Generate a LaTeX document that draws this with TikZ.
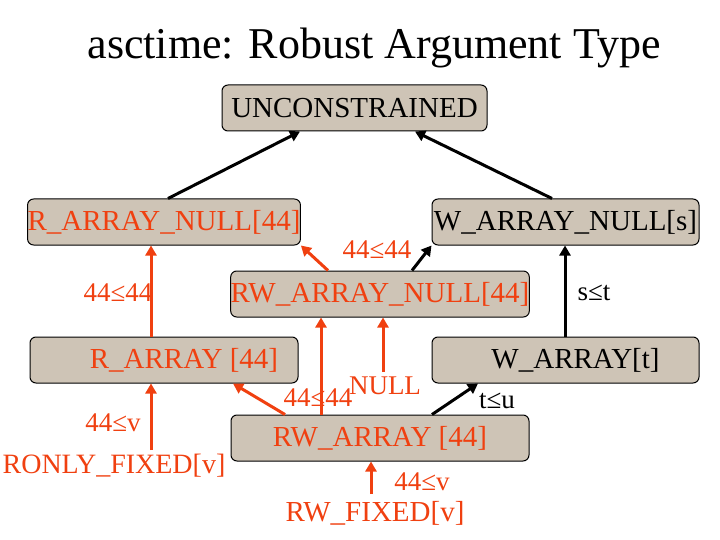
\documentclass[tikz,border=0pt]{standalone}
\usepackage{fontspec}
\setmainfont{Liberation Serif}
\usetikzlibrary{arrows.meta}
\definecolor{boxfill}{RGB}{206,196,182}
\definecolor{org}{RGB}{240,64,16}
\begin{document}
\begin{tikzpicture}[x=1pt,y=-1pt,
  bx/.style={draw=black,line width=1pt,fill=boxfill,rounded corners=6pt,minimum height=46pt,inner sep=0pt,font=\fontsize{29}{32}\selectfont},
  lb/.style={font=\fontsize{27}{30}\selectfont,inner sep=0pt},
  oa/.style={draw=org,line width=3pt,-{Triangle[length=10pt,width=11pt]}},
  ba/.style={draw=black,line width=3pt,-{Triangle[length=10pt,width=11pt]}}]
\useasboundingbox (0,0) rectangle (720,540);
\node[font=\fontsize{44}{48}\selectfont] (title) at (374,48) {asctime: Robust Argument Type};
\node[bx,minimum width=265pt] (U) at (354.5,108) {UNCONSTRAINED};
\node[bx,minimum width=268pt,text=org] (RAN) at (164,222) {R\_ARRAY\_NULL[44]};
\node[bx,minimum width=267pt] (WAN) at (565.5,222) {W\_ARRAY\_NULL[s]};
\node[bx,minimum width=298pt,text=org] (RWAN) at (380,294) {RW\_ARRAY\_NULL[44]};
\node[bx,minimum width=268pt,text=org] (RA) at (164,360) {\hspace{40pt}R\_ARRAY [44]};
\node[bx,minimum width=267pt] (WA) at (565.5,360) {\hspace{20pt}W\_ARRAY[t]};
\node[bx,minimum width=298pt,text=org] (RWA) at (380,438) {RW\_ARRAY [44]};
\node[lb,text=org] (l1) at (118,293) {44≤44};
\node[lb,text=org] (l2) at (377,250) {44≤44};
\node[lb] (l3) at (594,293) {s≤t};
\node[lb,text=org] (null) at (385,386) {NULL};
\node[lb,text=org] (l4) at (318,398) {44≤44};
\node[lb] (l5) at (497,401) {t≤u};
\node[lb,text=org] (l6) at (113,423) {44≤v};
\node[lb,text=org,font=\fontsize{28}{31}\selectfont] (ronly) at (114,466) {RONLY\_FIXED[v]};
\node[lb,text=org] (l7) at (422,482) {44≤v};
\node[lb,text=org,font=\fontsize{29}{32}\selectfont] (rwf) at (375,513) {RW\_FIXED[v]};
\coordinate (nb) at (383,372);
\coordinate (rb) at (151,450);
\coordinate (wb) at (371,494);
\draw[ba] (RAN.north -| 168,0) -- (U.south -| 300,0);
\draw[ba] (WAN.north -| 552,0) -- (U.south -| 415,0);
\draw[oa] (RA.north -| 151,0) -- (RAN.south -| 151,0);
\draw[oa] (RWAN.north -| 328,0) -- (RAN.south east);
\draw[ba] (RWAN.north -| 412,0) -- (WAN.south west);
\draw[ba] (WA.north -| 565,0) -- (WAN.south -| 565,0);
\draw[oa] (RWA.north -| 321,0) -- (RWAN.south -| 321,0);
\draw[oa] (nb) -- (RWAN.south -| nb);
\draw[oa] (RWA.north -| 285,0) -- (RA.south -| 233,0);
\draw[ba] (RWA.north -| 432,0) -- (WA.south -| 478,0);
\draw[oa] (rb) -- (RA.south -| rb);
\draw[oa] (wb) -- (RWA.south -| wb);
\end{tikzpicture}
\end{document}
